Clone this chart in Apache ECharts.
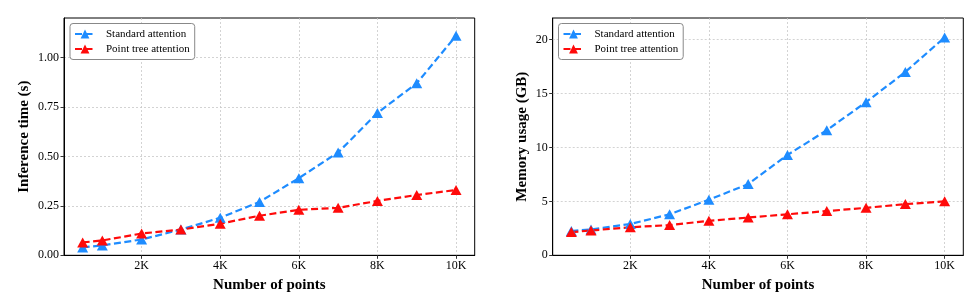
<!DOCTYPE html>
<html>
<head>
<meta charset="utf-8">
<script src="https://cdn.jsdelivr.net/npm/echarts@6/dist/echarts.min.js"></script>
<style>html,body{margin:0;padding:0;background:#fff;}#c{width:980px;height:308px;}</style>
</head>
<body>
<div id="c"></div>
<script>
const numPoints = [500, 1000, 2000, 3000, 4000, 5000, 6000, 7000, 8000, 9000, 10000];
const timeStandard = [0.04, 0.05, 0.08, 0.13, 0.19, 0.27, 0.39, 0.52, 0.72, 0.87, 1.11];
const timeTree = [0.065, 0.075, 0.11, 0.13, 0.16, 0.20, 0.23, 0.24, 0.275, 0.305, 0.33];
const memStandard = [2.25, 2.4, 2.9, 3.8, 5.15, 6.6, 9.3, 11.6, 14.2, 17.0, 20.2];
const memTree = [2.15, 2.3, 2.6, 2.8, 3.2, 3.5, 3.8, 4.1, 4.4, 4.75, 5.0];
const xTicks = [2000, 4000, 6000, 8000, 10000];
const timeTicks = [0, 0.25, 0.5, 0.75, 1.0];
const memTicks = [0, 5, 10, 15, 20];
const seriesNames = ['Standard attention', 'Point tree attention'];

const FONT = '"Liberation Serif", "Times New Roman", serif';
const BLUE = '#1E8CFF';
const RED = '#FF0A0A';

function pairs(xs, ys) { return xs.map((x, i) => [x, ys[i]]); }

function xAxis(gi) {
  return {
    type: 'value', gridIndex: gi, min: 25, max: 10475,
    name: 'Number of points', nameLocation: 'middle', nameGap: 18,
    nameTextStyle: { fontFamily: FONT, fontSize: 15, fontWeight: 'bold', color: '#000' },
    axisLine: { show: true, onZero: false, lineStyle: { color: '#000', width: 1 } },
    axisTick: { show: true, length: 3.5, customValues: xTicks, lineStyle: { color: '#333' } },
    axisLabel: { customValues: xTicks, margin: 5, fontFamily: FONT, fontSize: 12, color: '#000',
      formatter: v => (v / 1000) + 'K' },
    splitLine: { show: true, lineStyle: { color: '#c8c8c8', type: [2, 2], width: 0.8 } }
  };
}
function yAxis(gi, max, ticks, name, gap, fmt) {
  return {
    type: 'value', gridIndex: gi, min: 0, max: max,
    name: name, nameLocation: 'middle', nameGap: gap,
    nameTextStyle: { fontFamily: FONT, fontSize: 15, fontWeight: 'bold', color: '#000' },
    axisLine: { show: true, lineStyle: { color: '#000', width: 1 } },
    axisTick: { show: true, length: 3.5, customValues: ticks, lineStyle: { color: '#333' } },
    axisLabel: { customValues: ticks, margin: 5, fontFamily: FONT, fontSize: 12, color: '#000', formatter: fmt },
    splitLine: { show: true, lineStyle: { color: '#c8c8c8', type: [2, 2], width: 0.8 } }
  };
}
function line(name, gi, data, color) {
  return {
    name: name, type: 'line', xAxisIndex: gi, yAxisIndex: gi, data: data,
    symbol: 'triangle', symbolSize: [11, 10], showSymbol: true,
    itemStyle: { color: color },
    lineStyle: { color: color, width: 2.2, type: [7, 3.5] },
    animation: false
  };
}
function legend(left) {
  return {
    data: seriesNames, orient: 'vertical', left: left, top: 23.5,
    backgroundColor: '#fff', borderColor: '#888', borderWidth: 1, borderRadius: 3,
    padding: [5, 5, 5, 4], itemWidth: 20, itemHeight: 11, itemGap: 4,
    textStyle: { fontFamily: FONT, fontSize: 11, color: '#000', padding: [0, 0, 0, 6] },
    selectedMode: false
  };
}

const chart = echarts.init(document.getElementById('c'), null, { renderer: 'canvas' });
chart.setOption({
  animation: false,
  backgroundColor: '#fff',
  grid: [
    { left: 64, top: 18, width: 410.7, height: 237.3, show: true, borderColor: '#000', borderWidth: 1, backgroundColor: 'transparent' },
    { left: 552.7, top: 18, width: 410.6, height: 237.3, show: true, borderColor: '#000', borderWidth: 1, backgroundColor: 'transparent' }
  ],
  legend: [legend(70), legend(558.5)],
  xAxis: [xAxis(0), xAxis(1)],
  yAxis: [
    yAxis(0, 1.2, timeTicks, 'Inference time (s)', 32, v => v.toFixed(2)),
    yAxis(1, 22, memTicks, 'Memory usage (GB)', 23, v => String(v))
  ],
  series: [
    line(seriesNames[0], 0, pairs(numPoints, timeStandard), BLUE),
    line(seriesNames[1], 0, pairs(numPoints, timeTree), RED),
    line(seriesNames[0], 1, pairs(numPoints, memStandard), BLUE),
    line(seriesNames[1], 1, pairs(numPoints, memTree), RED)
  ]
});
</script>
</body>
</html>
